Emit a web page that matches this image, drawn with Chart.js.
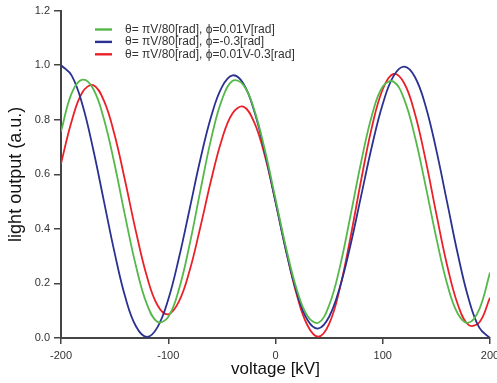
<!DOCTYPE html>
<html>
<head>
<meta charset="utf-8">
<script src="https://cdn.jsdelivr.net/npm/chart.js@4/dist/chart.umd.min.js"></script>
<style>
  html, body { margin: 0; padding: 0; background: #fff; }
  #wrap { width: 497px; height: 383px; position: relative; }
</style>
</head>
<body>
<div id="wrap"><canvas id="c" width="497" height="383"></canvas></div>
<script>
// Applied voltage (kV)
const voltage = [-200, -190, -180, -170, -160, -150, -140, -130, -120, -110,
                 -100, -90, -80, -70, -60, -50, -40, -30, -20, -10,
                 0, 10, 20, 30, 40, 50, 60, 70, 80, 90,
                 100, 110, 120, 130, 140, 150, 160, 170, 180, 190, 200];

// light output for phi = 0.01V
const outPhiLinear = [0.757, 0.898, 0.947, 0.914, 0.803, 0.636, 0.443, 0.262, 0.125, 0.059,
                      0.077, 0.179, 0.344, 0.541, 0.730, 0.873, 0.943, 0.928, 0.839, 0.691,
                      0.510, 0.328, 0.176, 0.080, 0.056, 0.120, 0.260, 0.450, 0.648, 0.818,
                      0.922, 0.940, 0.875, 0.738, 0.557, 0.366, 0.199, 0.089, 0.056, 0.105, 0.240];

// light output for phi = -0.3
const outPhiConst = [1.000, 0.962, 0.855, 0.692, 0.502, 0.312, 0.149, 0.042, 0.004, 0.040,
                     0.141, 0.294, 0.474, 0.656, 0.812, 0.920, 0.963, 0.933, 0.834, 0.681,
                     0.499, 0.317, 0.164, 0.065, 0.035, 0.078, 0.186, 0.342, 0.524, 0.705,
                     0.858, 0.960, 0.995, 0.957, 0.850, 0.688, 0.498, 0.307, 0.145, 0.038, 0.000];

// light output for phi = 0.01V - 0.3
const outPhiMixed = [0.639, 0.796, 0.901, 0.927, 0.870, 0.744, 0.572, 0.388, 0.227, 0.120,
                     0.087, 0.134, 0.248, 0.408, 0.579, 0.728, 0.824, 0.848, 0.792, 0.669,
                     0.500, 0.318, 0.156, 0.045, 0.005, 0.052, 0.182, 0.371, 0.582, 0.775,
                     0.912, 0.968, 0.934, 0.822, 0.652, 0.454, 0.267, 0.123, 0.048, 0.057, 0.148];

const seriesLabels = [
  'θ= πV/80[rad], ϕ=0.01V[rad]',
  'θ= πV/80[rad], ϕ=-0.3[rad]',
  'θ= πV/80[rad], ϕ=0.01V-0.3[rad]'
];
const seriesColors = ['#55b84a', '#2a3190', '#ea2128'];

const xTickValues = [-200, -100, 0, 100, 200];
const yTickValues = [0.0, 0.2, 0.4, 0.6, 0.8, 1.0, 1.2];

const FONT = '"Liberation Sans", Arial, sans-serif';
const AXIS = '#444';

function toPoints(ys) {
  return voltage.map((v, i) => ({ x: v, y: ys[i] }));
}

const seriesValues = [outPhiLinear, outPhiConst, outPhiMixed];
const datasets = seriesValues.map((ys, i) => ({
  label: seriesLabels[i],
  data: toPoints(ys),
  borderColor: seriesColors[i],
  backgroundColor: seriesColors[i],
  borderWidth: 1.8,
  pointRadius: 0,
  tension: 0.4,
  fill: false
}));

// Stacked legend drawn in the upper left of the plot
const stackedLegend = {
  id: 'stackedLegend',
  afterDraw(chart) {
    const ctx = chart.ctx;
    ctx.save();
    ctx.font = '12px ' + FONT;
    ctx.textBaseline = 'middle';
    ctx.textAlign = 'left';
    chart.data.datasets.forEach((ds, i) => {
      const y = 29.5 + i * 12.4;
      ctx.strokeStyle = ds.borderColor;
      ctx.lineWidth = 2.4;
      ctx.beginPath();
      ctx.moveTo(95, y);
      ctx.lineTo(112, y);
      ctx.stroke();
      ctx.fillStyle = '#333';
      ctx.fillText(ds.label, 125, y);
    });
    ctx.restore();
  }
};

new Chart(document.getElementById('c'), {
  type: 'line',
  data: { datasets },
  plugins: [stackedLegend],
  options: {
    responsive: false,
    animation: false,
    devicePixelRatio: 1,
    layout: { padding: { top: 10.7, right: 7, bottom: 0, left: 0 } },
    plugins: {
      legend: { display: false },
      tooltip: { enabled: false }
    },
    scales: {
      x: {
        type: 'linear',
        min: -200,
        max: 200,
        afterBuildTicks(scale) { scale.ticks = xTickValues.map(v => ({ value: v })); },
        afterFit(scale) { scale.height = 45; scale.paddingLeft = 0; scale.paddingRight = 0; },
        ticks: {
          color: '#333',
          font: { family: FONT, size: 11 },
          padding: 5,
          maxRotation: 0,
          callback: v => String(v)
        },
        grid: { drawOnChartArea: false, drawTicks: true, tickLength: 6, color: AXIS, lineWidth: 1.5 },
        border: { display: true, color: AXIS, width: 2 },
        title: {
          display: true,
          text: 'voltage [kV]',
          color: '#111',
          font: { family: FONT, size: 17 },
          padding: { top: 0, bottom: 3 }
        }
      },
      y: {
        min: 0,
        max: 1.2,
        afterBuildTicks(scale) { scale.ticks = yTickValues.map(v => ({ value: v })); },
        afterFit(scale) { scale.width = 61; scale.paddingTop = 0; scale.paddingBottom = 0; },
        ticks: {
          color: '#333',
          font: { family: FONT, size: 11 },
          padding: 4,
          callback: v => Number(v).toFixed(1)
        },
        grid: { drawOnChartArea: false, drawTicks: true, tickLength: 7, color: AXIS, lineWidth: 1.5 },
        border: { display: true, color: AXIS, width: 2 },
        title: {
          display: true,
          text: 'light output (a.u.)',
          color: '#111',
          font: { family: FONT, size: 18 },
          padding: { top: 5, bottom: 0 }
        }
      }
    }
  }
});
</script>
</body>
</html>
